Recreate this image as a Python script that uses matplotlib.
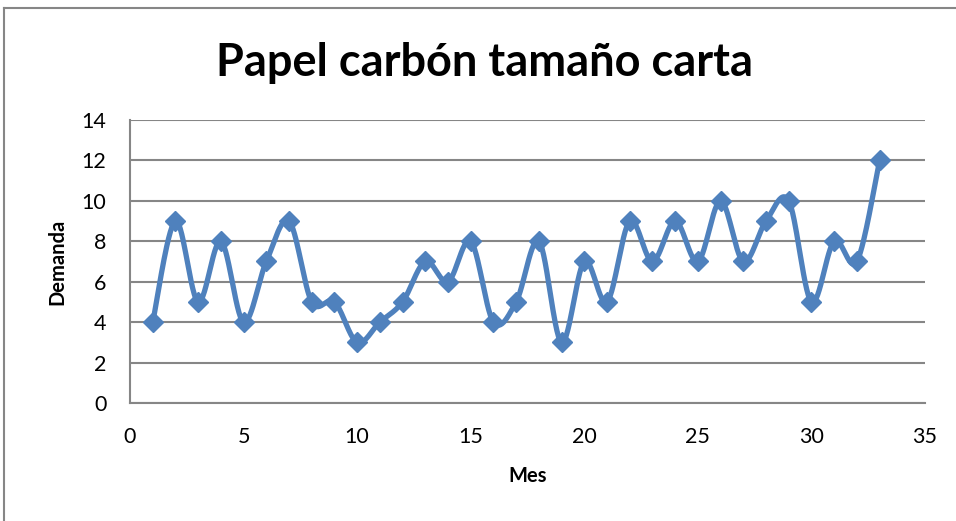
import numpy as np
import matplotlib.pyplot as plt
from matplotlib.lines import Line2D

mes = list(range(1, 34))
demanda = [4, 9, 5, 8, 4, 7, 9, 5, 5, 3, 4, 5, 7, 6, 8, 4, 5, 8, 3, 7, 5,
           9, 7, 9, 7, 10, 7, 9, 10, 5, 8, 7, 12]
yticks = [0, 2, 4, 6, 8, 10, 12, 14]
xticks = [0, 5, 10, 15, 20, 25, 30, 35]

azul = '#4F81BD'
gris = '#868686'


def suavizar(x, y, n=30):
    # curva tipo Excel (Catmull-Rom / Bezier)
    x = np.asarray(x, float)
    y = np.asarray(y, float)
    px = np.concatenate([[x[0]], x, [x[-1]]])
    py = np.concatenate([[y[0]], y, [y[-1]]])
    xs, ys = [], []
    t = np.linspace(0, 1, n)
    for i in range(1, len(px) - 2):
        p0 = np.array([px[i], py[i]])
        p3 = np.array([px[i + 1], py[i + 1]])
        c1 = p0 + (np.array([px[i + 1], py[i + 1]]) - np.array([px[i - 1], py[i - 1]])) / 6
        c2 = p3 - (np.array([px[i + 2], py[i + 2]]) - np.array([px[i], py[i]])) / 6
        b = ((1 - t) ** 3)[:, None] * p0 + (3 * (1 - t) ** 2 * t)[:, None] * c1 \
            + (3 * (1 - t) * t ** 2)[:, None] * c2 + (t ** 3)[:, None] * p3
        xs.extend(b[:, 0])
        ys.extend(b[:, 1])
    return xs, ys


plt.rcParams['font.family'] = ['Lato', 'DejaVu Sans']

fig = plt.figure(figsize=(9.56, 5.21), dpi=100)
ax = fig.add_axes([0.136, 0.2265, 0.8316, 0.5432])

xs, ys = suavizar(mes, demanda)
ax.plot(xs, ys, color=azul, lw=3.8, solid_capstyle='round', zorder=3)
ax.plot(mes, demanda, linestyle='none', marker='D', markersize=10.5,
        color=azul, zorder=4)

ax.set_xlim(0, 35)
ax.set_ylim(0, 14)
ax.set_xticks(xticks)
ax.set_yticks(yticks)
ax.tick_params(length=0, labelsize=15.5)
ax.tick_params(axis='x', pad=17)
ax.tick_params(axis='y', pad=17)
ax.grid(axis='y', color=gris, lw=1.5)
ax.set_axisbelow(True)
for s in ['top', 'right']:
    ax.spines[s].set_visible(False)
for s in ['left', 'bottom']:
    ax.spines[s].set_color(gris)
    ax.spines[s].set_linewidth(1.5)

ax.set_xlabel('Mes', fontsize=14.5, fontweight='bold', labelpad=14)
ax.set_ylabel('Demanda', fontsize=14.5, fontweight='bold', labelpad=10)
fig.text(0.507, 0.88, 'Papel carbón tamaño carta', fontsize=32.5,
         fontweight='bold', ha='center', va='center')

# marco del grafico
fig.add_artist(Line2D([0.0045, 0.0045], [0, 0.985], color=gris, lw=1.5,
                      transform=fig.transFigure))
fig.add_artist(Line2D([0.0045, 1], [0.985, 0.985], color=gris, lw=1.5,
                      transform=fig.transFigure))

fig.savefig('out.png', dpi=100)
plt.close(fig)
